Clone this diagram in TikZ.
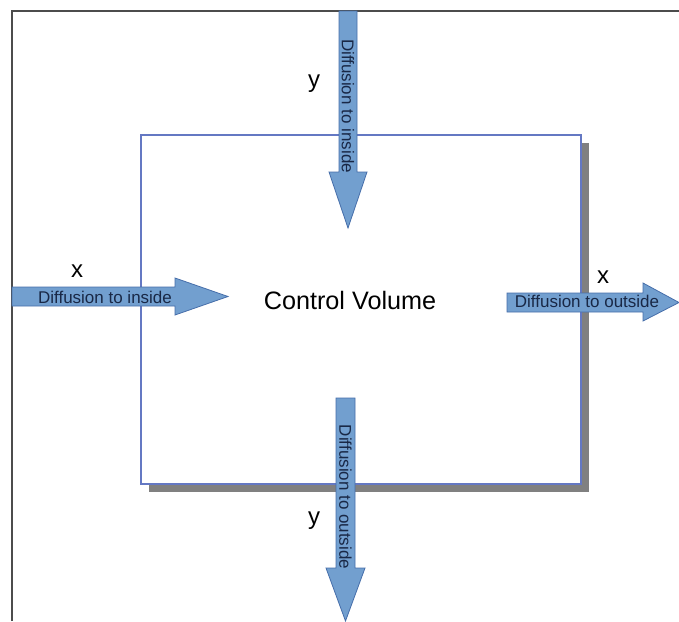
\documentclass[tikz,border=0pt]{standalone}
\usepackage{fontspec}
\setmainfont{Liberation Sans}
\definecolor{arrowfill}{RGB}{114,159,207}
\definecolor{arrowline}{RGB}{70,110,170}
\definecolor{boxline}{RGB}{100,120,195}
\definecolor{arrowtext}{RGB}{25,40,70}
\begin{document}
\begin{tikzpicture}[x=0.5pt,y=-0.5pt, line join=miter,
  blockarrow/.style={fill=arrowfill, draw=arrowline, line width=0.4pt},
  arrowlabel/.style={text=arrowtext, inner sep=0pt, font=\fontsize{8.5}{10}\selectfont},
  letter/.style={inner sep=0pt, font=\fontsize{12}{14}\selectfont}]
\useasboundingbox (0,0) rectangle (679,621);
% frame
\draw[gray!60!black, line width=0.6pt] (12,621)--(12,11)--(679,11);
% control volume with shadow
\fill[gray] (149,143) rectangle (589,492);
\draw[boxline, fill=white, line width=0.6pt] (141,135) rectangle (581,484);
\node (cv) at (350,300) {\fontsize{12.6}{15}\selectfont Control Volume};
% y, top
\draw[blockarrow] (339,11)--(339,172)--(329,172)--(348,228)--(367,172)--(357,172)--(357,11)--cycle;
\node[arrowlabel, rotate=-90] (dtop) at (348,106) {Diffusion to inside};
\node[letter] (ytop) at (314,84) {y};
% y, bottom
\draw[blockarrow] (336,398)--(336,568)--(326,568)--(345.5,621)--(365,568)--(355,568)--(355,398)--cycle;
\node[arrowlabel, rotate=-90] (dbot) at (345.5,497) {Diffusion to outside};
\node[letter] (ybot) at (314,521) {y};
% x, left
\draw[blockarrow] (12,287)--(175,287)--(175,278)--(228,296.5)--(175,315)--(175,306)--(12,306)--cycle;
\node[arrowlabel] (dleft) at (105,297) {Diffusion to inside};
\node[letter] (xleft) at (77,271) {x};
% x, right
\draw[blockarrow] (507,293)--(643,293)--(643,283)--(679,302.5)--(643,321)--(643,312)--(507,312)--cycle;
\node[arrowlabel] (dright) at (587,301.5) {Diffusion to outside};
\node[letter] (xright) at (603,277) {x};
\end{tikzpicture}
\end{document}
